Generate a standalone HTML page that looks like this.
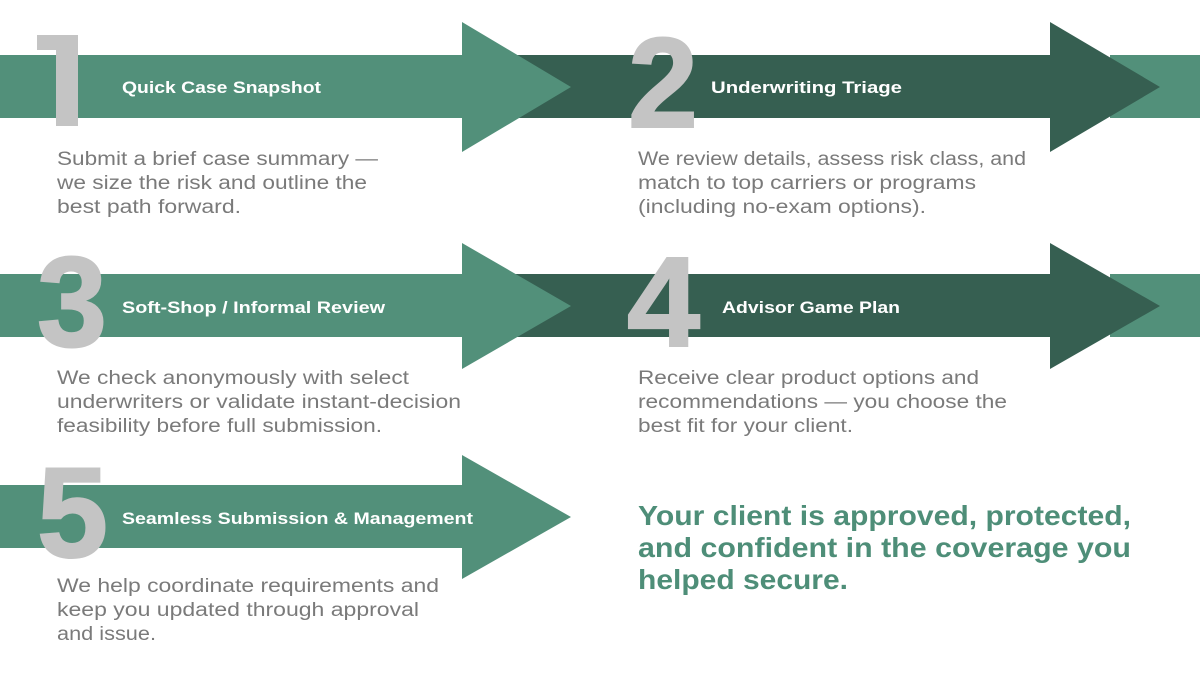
<!DOCTYPE html>
<html><head><meta charset="utf-8"><style>
html,body{margin:0;padding:0;background:#fff;width:1200px;height:675px;overflow:hidden}
svg text{font-family:"Liberation Sans",sans-serif}
.n{font-size:128px;font-weight:bold;fill:#c4c4c4;stroke:#c4c4c4;stroke-width:2}
.t{font-size:17px;font-weight:bold;fill:#fff}
.b{font-size:19px;fill:#7a7a7a}
.f{font-size:28px;font-weight:bold;fill:#4e8e78}
</style></head><body>
<svg width="1200" height="675" viewBox="0 0 1200 675" xmlns="http://www.w3.org/2000/svg">
<rect x="1110" y="55" width="90" height="63" fill="#52907a"/>
<polygon points="515,55 1050,55 1050,22 1160,87 1050,152 1050,118 515,118" fill="#365f51"/>
<polygon points="0,55 462,55 462,22 571,87 462,152 462,118 0,118" fill="#52907a"/>
<rect x="1110" y="274" width="90" height="63" fill="#52907a"/>
<polygon points="515,274 1050,274 1050,243 1160,306 1050,369 1050,337 515,337" fill="#365f51"/>
<polygon points="0,274 462,274 462,243 571,306 462,369 462,337 0,337" fill="#52907a"/>
<polygon points="0,485 462,485 462,455 571,517 462,579 462,548 0,548" fill="#52907a"/>

<!-- number 1 as block shape -->
<polygon points="37,35 78,35 78,126 56,126 56,50 37,50" fill="#c4c4c4"/>
<text class="n" x="628" y="127" textLength="70" lengthAdjust="spacingAndGlyphs">2</text>
<text class="n" x="37" y="346" textLength="70" lengthAdjust="spacingAndGlyphs">3</text>
<text class="n" x="627" y="346" textLength="73" lengthAdjust="spacingAndGlyphs">4</text>
<text class="n" x="37" y="557" textLength="71" lengthAdjust="spacingAndGlyphs">5</text>

<text class="t" x="122" y="93" textLength="199" lengthAdjust="spacingAndGlyphs">Quick Case Snapshot</text>
<text class="t" x="711" y="93" textLength="191" lengthAdjust="spacingAndGlyphs">Underwriting Triage</text>
<text class="t" x="122" y="313" textLength="263" lengthAdjust="spacingAndGlyphs">Soft-Shop / Informal Review</text>
<text class="t" x="722" y="313" textLength="178" lengthAdjust="spacingAndGlyphs">Advisor Game Plan</text>
<text class="t" x="122" y="524" textLength="351" lengthAdjust="spacingAndGlyphs">Seamless Submission &amp; Management</text>

<text class="b" x="57" y="165" textLength="321" lengthAdjust="spacingAndGlyphs">Submit a brief case summary —</text>
<text class="b" x="57" y="189" textLength="310" lengthAdjust="spacingAndGlyphs">we size the risk and outline the</text>
<text class="b" x="57" y="213" textLength="184" lengthAdjust="spacingAndGlyphs">best path forward.</text>

<text class="b" x="638" y="165" textLength="388" lengthAdjust="spacingAndGlyphs">We review details, assess risk class, and</text>
<text class="b" x="638" y="189" textLength="338" lengthAdjust="spacingAndGlyphs">match to top carriers or programs</text>
<text class="b" x="638" y="213" textLength="288" lengthAdjust="spacingAndGlyphs">(including no-exam options).</text>

<text class="b" x="57" y="384" textLength="352" lengthAdjust="spacingAndGlyphs">We check anonymously with select</text>
<text class="b" x="57" y="408" textLength="404" lengthAdjust="spacingAndGlyphs">underwriters or validate instant-decision</text>
<text class="b" x="57" y="432" textLength="325" lengthAdjust="spacingAndGlyphs">feasibility before full submission.</text>

<text class="b" x="638" y="384" textLength="341" lengthAdjust="spacingAndGlyphs">Receive clear product options and</text>
<text class="b" x="638" y="408" textLength="369" lengthAdjust="spacingAndGlyphs">recommendations — you choose the</text>
<text class="b" x="638" y="432" textLength="215" lengthAdjust="spacingAndGlyphs">best fit for your client.</text>

<text class="b" x="57" y="592" textLength="382" lengthAdjust="spacingAndGlyphs">We help coordinate requirements and</text>
<text class="b" x="57" y="616" textLength="362" lengthAdjust="spacingAndGlyphs">keep you updated through approval</text>
<text class="b" x="57" y="640" textLength="99" lengthAdjust="spacingAndGlyphs">and issue.</text>

<text class="f" x="638" y="525" textLength="493" lengthAdjust="spacingAndGlyphs">Your client is approved, protected,</text>
<text class="f" x="638" y="557" textLength="493" lengthAdjust="spacingAndGlyphs">and confident in the coverage you</text>
<text class="f" x="638" y="589" textLength="210" lengthAdjust="spacingAndGlyphs">helped secure.</text>
</svg>
</body></html>
